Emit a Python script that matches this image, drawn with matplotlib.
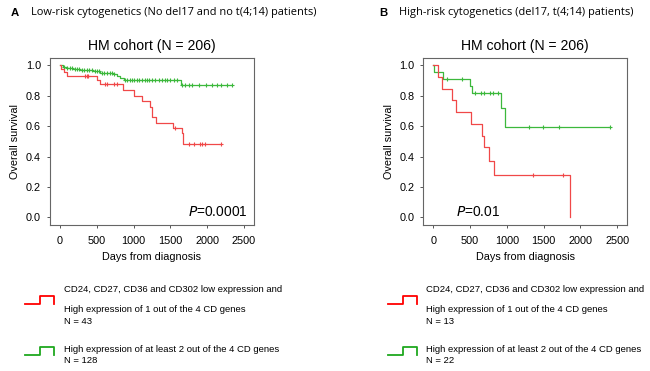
import numpy as np
import matplotlib.pyplot as plt
from matplotlib.lines import Line2D

plt.rcParams["font.family"] = ["Liberation Sans", "DejaVu Sans"]

W, H = 650, 371

# ---------------- data ----------------
# Panel A : low-risk cytogenetics
a_red_t = [0, 20, 60, 100, 500, 545, 850, 1000, 1120, 1228, 1250, 1310, 1530, 1660, 1673, 2182]
a_red_s = [1.0, 0.977, 0.953, 0.93, 0.906, 0.88, 0.84, 0.80, 0.765, 0.728, 0.663, 0.622, 0.585, 0.552, 0.483, 0.483]
a_red_cens = [340, 365, 385, 614, 640, 727, 773, 1560, 1750, 1818, 1896, 1932, 1964, 2182]

a_grn_t = [0, 40, 91, 180, 273, 455, 546, 727, 773, 820, 864, 1640, 2341]
a_grn_s = [1.0, 0.992, 0.985, 0.977, 0.97, 0.96, 0.95, 0.94, 0.93, 0.918, 0.906, 0.87, 0.87]
a_grn_cens = [60, 100, 130, 160, 200, 230, 260, 300, 330, 360, 400, 430, 470, 500,
              530, 570, 600, 640, 680, 700, 740, 880, 910, 950, 980, 1010, 1050,
              1080, 1110, 1150, 1180, 1210, 1250, 1296, 1341, 1387, 1432, 1455,
              1500, 1546, 1591, 1660, 1705, 1750, 1796, 1887, 1978, 2069, 2137,
              2182, 2273, 2341]

# Panel B : high-risk cytogenetics
b_red_t = [0, 68, 123, 250, 305, 509, 668, 695, 759, 823, 1855]
b_red_s = [1.0, 0.923, 0.846, 0.769, 0.692, 0.615, 0.538, 0.462, 0.37, 0.277, 0.0]
b_red_cens = [1355, 1764]

b_grn_t = [0, 14, 136, 500, 523, 923, 968, 2395]
b_grn_s = [1.0, 0.955, 0.909, 0.864, 0.818, 0.719, 0.594, 0.594]
b_grn_cens = [191, 386, 568, 650, 695, 764, 809, 877, 1305, 1491, 1705, 2395]

panel_letters = ["A", "B"]
panel_headers = ["Low-risk cytogenetics (No del17 and no t(4;14) patients)",
                 "High-risk cytogenetics (del17, t(4;14) patients)"]
p_values = ["0.0001", "0.01"]
red_n = [43, 13]
grn_n = [128, 22]

x_ticks = [0, 500, 1000, 1500, 2000, 2500]
y_ticks = [0.0, 0.2, 0.4, 0.6, 0.8, 1.0]

RED_LINE = "#f04848"
GRN_LINE = "#3cb83c"
RED_LEG = "#ff0000"
GRN_LEG = "#1fa81f"


def surv_at(times, surv, t):
    i = np.searchsorted(times, t, side="right") - 1
    return surv[i]


def fx(x):
    return x / W


def fy(y):
    return 1 - y / H


fig = plt.figure(figsize=(6.5, 3.71), dpi=100)

panels = [
    (a_red_t, a_red_s, a_red_cens, a_grn_t, a_grn_s, a_grn_cens),
    (b_red_t, b_red_s, b_red_cens, b_grn_t, b_grn_s, b_grn_cens),
]
ax_left = [50, 423.3]
p_xpos = [0.97, 0.16]
p_ha = ["right", "left"]

for k, (rt, rs, rc, gt, gs, gc) in enumerate(panels):
    ax = fig.add_axes([fx(ax_left[k]), fy(225), 204 / W, (225 - 58.3) / H])

    ax.step(gt, gs, where="post", color=GRN_LINE, lw=0.9)
    ax.plot(gc, [surv_at(gt, gs, t) for t in gc], ls="none", marker="+",
            ms=3, mew=0.8, color=GRN_LINE)
    ax.step(rt, rs, where="post", color=RED_LINE, lw=0.9)
    ax.plot(rc, [surv_at(rt, rs, t) for t in rc], ls="none", marker="+",
            ms=3, mew=0.8, color=RED_LINE)

    ax.set_xlim(-136, 2636)
    ax.set_ylim(-0.05, 1.046)
    ax.set_xticks(x_ticks)
    ax.set_yticks(y_ticks)
    ax.set_yticklabels(["%.1f" % v for v in y_ticks])
    ax.tick_params(labelsize=7.8, length=2.5, width=0.7, color="#555555", pad=4)
    ax.tick_params(axis="x", pad=5.5)
    for sp in ax.spines.values():
        sp.set_color("#666666")
        sp.set_linewidth(0.8)
    ax.set_xlabel("Days from diagnosis", fontsize=7.8, labelpad=4)
    ax.set_ylabel("Overall survival", fontsize=7.8, labelpad=4)
    ax.set_title("HM cohort (N = 206)", fontsize=10.1, pad=6)

    ax.text(p_xpos[k], 0.08, "$P$=" + p_values[k], transform=ax.transAxes,
            fontsize=9.9, ha=p_ha[k], va="center")

    # panel header
    x0 = [11, 379][k]
    fig.text(fx(x0), fy(13), panel_letters[k], fontsize=8.2, fontweight="bold",
             ha="left", va="center")
    fig.text(fx(x0 + 20), fy(13), panel_headers[k], fontsize=7.9,
             ha="left", va="center", family=["Open Sans", "DejaVu Sans"])

    # legend glyphs (step symbols)
    gx = [[25, 40, 54.3], [387.7, 402.7, 416.7]][k]
    for col, ylo, yhi in [(RED_LEG, 304, 296), (GRN_LEG, 355, 347.3)]:
        xs = [fx(gx[0]), fx(gx[1]), fx(gx[1]), fx(gx[2]), fx(gx[2])]
        ys = [fy(ylo), fy(ylo), fy(yhi), fy(yhi), fy(ylo)]
        fig.add_artist(Line2D(xs, ys, color=col, lw=1.3, transform=fig.transFigure))

    tx = fx([64, 426][k])
    fig.text(tx, fy(289), "CD24, CD27, CD36 and CD302 low expression and",
             fontsize=6.8, va="center")
    fig.text(tx, fy(309.5), "High expression of 1 out of the 4 CD genes",
             fontsize=6.8, va="center")
    fig.text(tx, fy(321), "N = %d" % red_n[k], fontsize=6.8, va="center")
    fig.text(tx, fy(349.5), "High expression of at least 2 out of the 4 CD genes",
             fontsize=6.8, va="center")
    fig.text(tx, fy(360.5), "N = %d" % grn_n[k], fontsize=6.8, va="center")

fig.savefig("out.png", dpi=100)
